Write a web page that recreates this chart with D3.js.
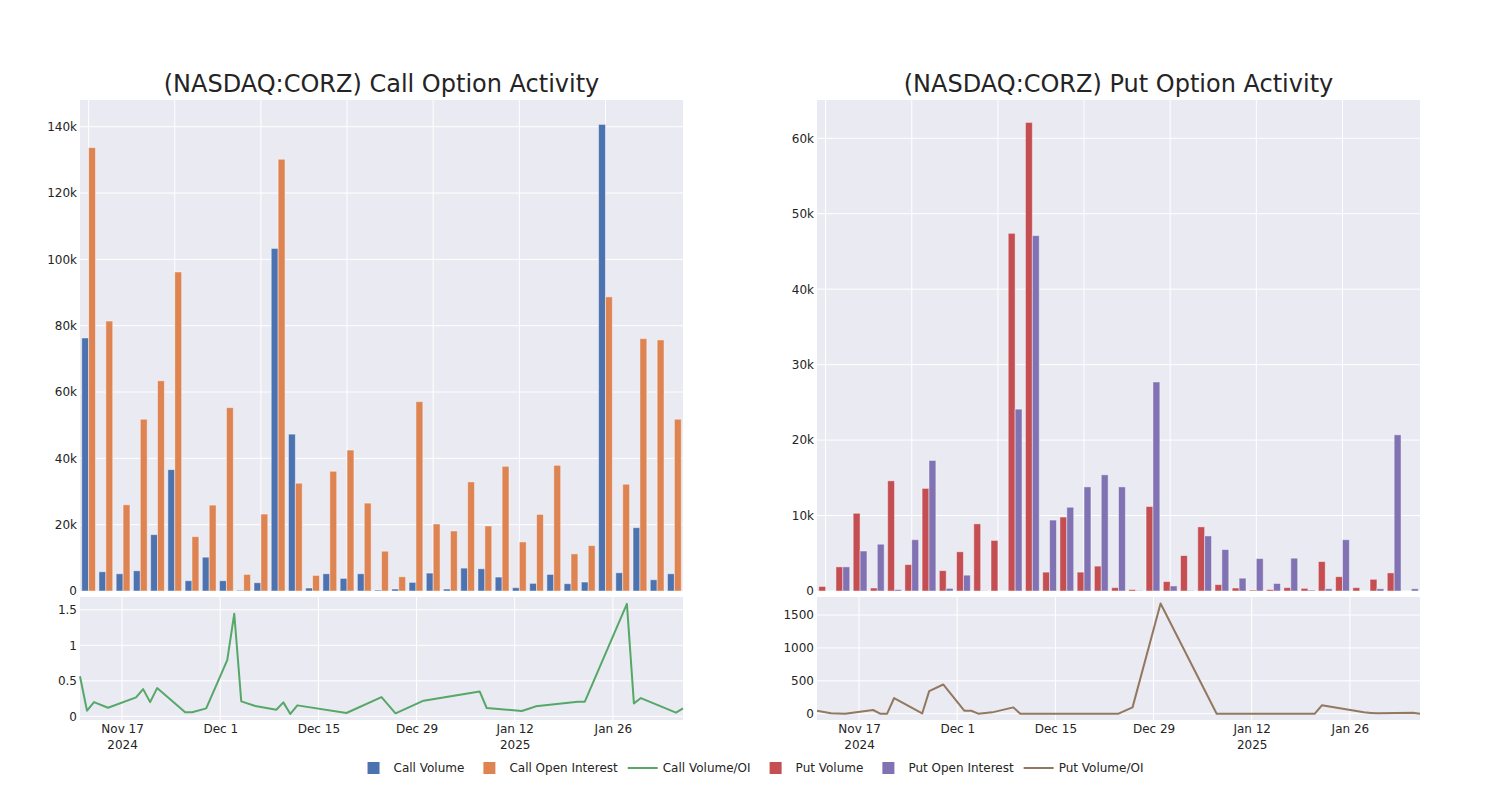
<!DOCTYPE html>
<html>
<head>
<meta charset="utf-8">
<script src="https://cdn.jsdelivr.net/npm/d3@7"></script>
<style>
  html, body { margin: 0; padding: 0; background: #ffffff; }
  svg { display: block; }
  text { font-family: "DejaVu Sans", sans-serif; }
</style>
</head>
<body>
<svg id="chart" width="1500" height="800"></svg>
<script>
// ---------------- DATA ----------------
const dates = ["2024-11-11","2024-11-12","2024-11-13","2024-11-15","2024-11-19","2024-11-20","2024-11-21","2024-11-22","2024-11-26","2024-11-27","2024-11-29","2024-12-02","2024-12-03","2024-12-04","2024-12-06","2024-12-09","2024-12-10","2024-12-11","2024-12-12","2024-12-19","2024-12-24","2024-12-26","2024-12-30","2025-01-07","2025-01-08","2025-01-13","2025-01-14","2025-01-15","2025-01-21","2025-01-22","2025-01-28","2025-01-29","2025-01-30","2025-02-04","2025-02-05"];

const callVolume = [76300, 5800, 5200, 6100, 17000, 36600, 3100, 10200, 3100, 200, 2500, 103300, 47300, 900, 5200, 3800, 5200, 300, 600, 2600, 5400, 600, 6900, 6700, 4200, 1000, 2300, 5000, 2200, 2700, 140700, 5500, 19100, 3400, 5200];
const callOpenInterest = [133700, 81400, 26000, 51800, 63400, 96200, 16400, 25900, 55300, 5000, 23200, 130200, 32500, 4700, 36100, 42500, 26500, 12000, 4300, 57100, 20200, 18100, 32900, 19600, 37600, 14800, 23100, 37900, 11200, 13700, 88700, 32200, 76100, 75700, 51800];
const callRatio = [0.565, 0.079, 0.2, 0.121, 0.266, 0.383, 0.2, 0.397, 0.056, 0.056, 0.112, 0.79, 1.444, 0.21, 0.145, 0.093, 0.196, 0.033, 0.154, 0.047, 0.27, 0.042, 0.22, 0.35, 0.117, 0.075, 0.107, 0.14, 0.206, 0.206, 1.584, 0.182, 0.257, 0.051, 0.112];

const putVolume = [600, 3200, 10300, 400, 14600, 3500, 13600, 2700, 5200, 8900, 6700, 47400, 62100, 2500, 9800, 2500, 3300, 450, 200, 11200, 1250, 4700, 8500, 850, 400, 130, 200, 450, 350, 3900, 1900, 450, 1550, 2400, 0];
const putOpenInterest = [0, 3200, 5300, 6200, 200, 6800, 17300, 350, 2100, 30, 0, 24100, 47100, 9400, 11100, 13800, 15400, 13800, 50, 27700, 670, 50, 7300, 5500, 1700, 4300, 1000, 4350, 130, 300, 6800, 0, 300, 20700, 300];
const putRatio = [45, 25, 5, 0, 56, 0, 0, 238, 3, 343, 444, 45, 45, 0, 20, 96, 0, 0, 0, 0, 0, 96, 1675, 0, 0, 0, 0, 0, 0, 127, 21, 12, 5, 13, 0];

const callBarTicks = [0, 20000, 40000, 60000, 80000, 100000, 120000, 140000];
const callBarTickLabels = ["0", "20k", "40k", "60k", "80k", "100k", "120k", "140k"];
const putBarTicks = [0, 10000, 20000, 30000, 40000, 50000, 60000];
const putBarTickLabels = ["0", "10k", "20k", "30k", "40k", "50k", "60k"];
const callRatioTicks = [0, 0.5, 1, 1.5];
const callRatioTickLabels = ["0", "0.5", "1", "1.5"];
const putRatioTicks = [0, 500, 1000, 1500];
const putRatioTickLabels = ["0", "500", "1000", "1500"];
const dateTicks = ["2024-11-17", "2024-12-01", "2024-12-15", "2024-12-29", "2025-01-12", "2025-01-26"];
const dateTickLabels = ["Nov 17", "Dec 1", "Dec 15", "Dec 29", "Jan 12", "Jan 26"];
const dateTickYears = ["2024", "", "", "", "2025", ""];
const dateRange = ["2024-11-11", "2025-02-05"];

const titles = ["(NASDAQ:CORZ) Call Option Activity", "(NASDAQ:CORZ) Put Option Activity"];
const legendNames = ["Call Volume", "Call Open Interest", "Call Volume/OI", "Put Volume", "Put Open Interest", "Put Volume/OI"];
const legendKinds = ["bar", "bar", "line", "bar", "bar", "line"];

// ---------------- STYLE ----------------
const COLORS = {
  callVol: "#4C72B0", callOI: "#DD8452", callRatio: "#55A868",
  putVol: "#C44E52", putOI: "#8172B3", putRatio: "#937860"
};
const legendColors = [COLORS.callVol, COLORS.callOI, COLORS.callRatio, COLORS.putVol, COLORS.putOI, COLORS.putRatio];
const BG = "#EAEAF2";
const TXT = "rgb(36,36,36)";

const svg = d3.select("#chart");
const parse = d3.utcParse("%Y-%m-%d");
const dateObjs = dates.map(parse);

const panels = [
  { x0: 80, x1: 683, title: titles[0], vol: callVolume, oi: callOpenInterest, ratio: callRatio,
    barMax: 148060, barTicks: callBarTicks, barLabels: callBarTickLabels,
    rDomain: [-0.052, 1.68], rTicks: callRatioTicks, rLabels: callRatioTickLabels,
    cVol: COLORS.callVol, cOI: COLORS.callOI, cR: COLORS.callRatio },
  { x0: 817, x1: 1420, title: titles[1], vol: putVolume, oi: putOpenInterest, ratio: putRatio,
    barMax: 65070, barTicks: putBarTicks, barLabels: putBarTickLabels,
    rDomain: [-96, 1774], rTicks: putRatioTicks, rLabels: putRatioTickLabels,
    cVol: COLORS.putVol, cOI: COLORS.putOI, cR: COLORS.putRatio }
];

const TOP = { y0: 100, y1: 591 };
const BOT = { y0: 597, y1: 720 };

panels.forEach(p => {
  const g = svg.append("g");

  // Title
  g.append("text")
    .attr("x", (p.x0 + p.x1) / 2).attr("y", 92)
    .attr("text-anchor", "middle")
    .attr("font-size", 24).attr("fill", TXT)
    .text(p.title);

  // ---------- Top bar chart ----------
  g.append("rect").attr("x", p.x0).attr("y", TOP.y0)
    .attr("width", p.x1 - p.x0).attr("height", TOP.y1 - TOP.y0).attr("fill", BG);

  const xb = d3.scaleBand().domain(d3.range(dates.length)).range([p.x0, p.x1]).padding(0);
  const bw = xb.bandwidth();
  const xInner = d3.scaleBand().domain(["vol", "oi"]).range([bw * 0.1, bw * 0.9]).padding(0);
  const yb = d3.scaleLinear().domain([0, p.barMax]).range([TOP.y1, TOP.y0]);

  // grid
  g.append("g").selectAll("line.h").data(p.barTicks).join("line")
    .attr("x1", p.x0).attr("x2", p.x1)
    .attr("y1", d => yb(d)).attr("y2", d => yb(d))
    .attr("stroke", "#fff").attr("stroke-width", 1);
  const vCats = d3.range(0, dates.length, 5);
  g.append("g").selectAll("line.v").data(vCats).join("line")
    .attr("x1", d => xb(d) + bw / 2).attr("x2", d => xb(d) + bw / 2)
    .attr("y1", TOP.y0).attr("y2", TOP.y1)
    .attr("stroke", "#fff").attr("stroke-width", 1);

  // bars
  const barData = [];
  dates.forEach((d, i) => {
    barData.push({ i, key: "vol", v: p.vol[i], c: p.cVol });
    barData.push({ i, key: "oi", v: p.oi[i], c: p.cOI });
  });
  g.append("g").selectAll("rect").data(barData.filter(d => d.v > 0)).join("rect")
    .attr("x", d => xb(d.i) + xInner(d.key))
    .attr("width", xInner.bandwidth())
    .attr("y", d => yb(d.v))
    .attr("height", d => yb(0) - yb(d.v))
    .attr("fill", d => d.c)
    .attr("stroke", "rgba(255,255,255,0.45)")
    .attr("stroke-width", 1);

  // y axis
  const yAx = g.append("g").attr("transform", `translate(${p.x0},0)`)
    .call(d3.axisLeft(yb).tickValues(p.barTicks).tickFormat((d, i) => p.barLabels[i]).tickSize(0).tickPadding(3));
  yAx.select(".domain").remove();
  yAx.selectAll("text").attr("font-size", 12).attr("fill", TXT).attr("font-family", "DejaVu Sans");

  // ---------- Bottom line chart ----------
  g.append("rect").attr("x", p.x0).attr("y", BOT.y0)
    .attr("width", p.x1 - p.x0).attr("height", BOT.y1 - BOT.y0).attr("fill", BG);

  const xt = d3.scaleUtc().domain(dateRange.map(parse)).range([p.x0, p.x1]);
  const yr = d3.scaleLinear().domain(p.rDomain).range([BOT.y1, BOT.y0]);
  const tickDates = dateTicks.map(parse);

  g.append("g").selectAll("line").data(p.rTicks).join("line")
    .attr("x1", p.x0).attr("x2", p.x1)
    .attr("y1", d => yr(d)).attr("y2", d => yr(d))
    .attr("stroke", "#fff").attr("stroke-width", 1);
  g.append("g").selectAll("line").data(tickDates).join("line")
    .attr("x1", d => xt(d)).attr("x2", d => xt(d))
    .attr("y1", BOT.y0).attr("y2", BOT.y1)
    .attr("stroke", "#fff").attr("stroke-width", 1);

  const line = d3.line().x((d, i) => xt(dateObjs[i])).y(d => yr(d));
  g.append("path").datum(p.ratio)
    .attr("d", line)
    .attr("fill", "none")
    .attr("stroke", p.cR)
    .attr("stroke-width", 2)
    .attr("stroke-linejoin", "round");

  const yAx2 = g.append("g").attr("transform", `translate(${p.x0},0)`)
    .call(d3.axisLeft(yr).tickValues(p.rTicks).tickFormat((d, i) => p.rLabels[i]).tickSize(0).tickPadding(3));
  yAx2.select(".domain").remove();
  yAx2.selectAll("text").attr("font-size", 12).attr("fill", TXT).attr("font-family", "DejaVu Sans");

  const xAx = g.append("g").attr("transform", `translate(0,${BOT.y1})`)
    .call(d3.axisBottom(xt).tickValues(tickDates).tickFormat((d, i) => dateTickLabels[i]).tickSize(0));
  xAx.select(".domain").remove();
  xAx.selectAll("text")
    .attr("font-size", 12).attr("fill", TXT).attr("font-family", "DejaVu Sans")
    .attr("y", 13).attr("dy", 0)
    .each(function (d, i) {
      if (dateTickYears[i]) {
        const t = d3.select(this);
        const label = dateTickLabels[i];
        t.text(null);
        t.append("tspan").attr("x", 0).attr("dy", 0).text(label);
        t.append("tspan").attr("x", 0).attr("dy", 16).text(dateTickYears[i]);
      }
    });
});

// ---------------- LEGEND ----------------
const lg = svg.append("g");
const items = [];
let cursor = 0;
legendNames.forEach((name, i) => {
  const it = lg.append("g");
  const t = it.append("text").attr("x", 40).attr("y", 4)
    .attr("font-size", 12).attr("fill", TXT).text(name);
  if (legendKinds[i] === "bar") {
    it.append("rect").attr("x", 14).attr("y", -6).attr("width", 12).attr("height", 12)
      .attr("fill", legendColors[i]);
  } else {
    it.append("line").attr("x1", 5).attr("x2", 35).attr("y1", 0).attr("y2", 0)
      .attr("stroke", legendColors[i]).attr("stroke-width", 2);
  }
  const w = 40 + t.node().getComputedTextLength() + 5;
  items.push({ it, x: cursor });
  cursor += w;
});
const startX = 751 - cursor / 2;
items.forEach(d => d.it.attr("transform", `translate(${startX + d.x},768)`));
</script>
</body>
</html>
